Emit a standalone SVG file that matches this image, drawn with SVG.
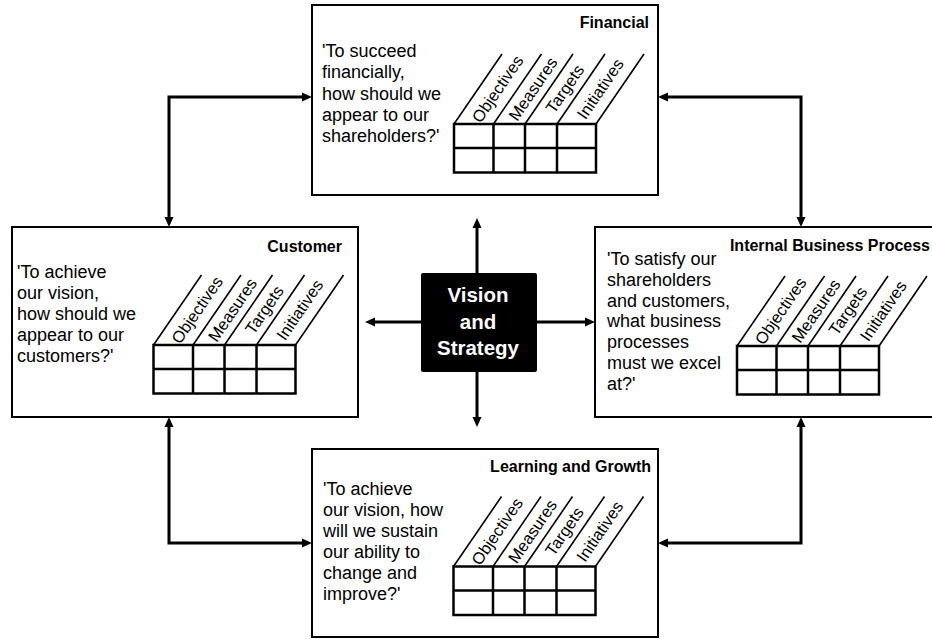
<svg xmlns="http://www.w3.org/2000/svg" width="932" height="639" viewBox="0 0 932 639">
<style>
.box{fill:#fff;stroke:#000;stroke-width:2}
.q{font-family:"Liberation Sans",Arial,sans-serif;font-size:18px;fill:#000}
.t{font-family:"Liberation Sans",Arial,sans-serif;font-size:16px;font-weight:bold;fill:#000;text-anchor:end}
.grid{fill:none;stroke:#000;stroke-width:2.5}
.diag{stroke:#000;stroke-width:1.6}
.lbl{font-family:"Liberation Sans",Arial,sans-serif;font-size:16.5px;fill:#000;text-anchor:middle}
.conn{fill:none;stroke:#000;stroke-width:3}
.vs{font-family:"Liberation Sans",Arial,sans-serif;font-size:20.5px;font-weight:bold;fill:#fff;text-anchor:middle}
</style>
<defs>
<marker id="ah" viewBox="0 0 10 10" refX="1" refY="5" markerWidth="10" markerHeight="10" markerUnits="userSpaceOnUse" orient="auto-start-reverse">
<path d="M0,0.5 L10,5 L0,9.5 z" fill="#000"/>
</marker>
<g id="grid">
<line class="diag" x1="0" y1="0" x2="48" y2="-70"/>
<line class="diag" x1="39.5" y1="0" x2="87.5" y2="-70"/>
<line class="diag" x1="71" y1="0" x2="119" y2="-70"/>
<line class="diag" x1="103" y1="0" x2="151" y2="-70"/>
<line class="diag" x1="142" y1="0" x2="190" y2="-70"/>
<rect class="grid" x="0" y="0" width="142" height="48.5"/>
<line class="grid" x1="0" y1="24" x2="142" y2="24"/>
<line class="grid" x1="39.5" y1="0" x2="39.5" y2="48.5"/>
<line class="grid" x1="71" y1="0" x2="71" y2="48.5"/>
<line class="grid" x1="103" y1="0" x2="103" y2="48.5"/>
</g>
</defs>

<g id="connectors">
<path class="conn" d="M169,218 V97 H303" marker-start="url(#ah)" marker-end="url(#ah)"/>
<path class="conn" d="M801,218 V97 H667" marker-start="url(#ah)" marker-end="url(#ah)"/>
<path class="conn" d="M169,426 V543 H303" marker-start="url(#ah)" marker-end="url(#ah)"/>
<path class="conn" d="M801,426 V543 H667" marker-start="url(#ah)" marker-end="url(#ah)"/>
<path class="conn" d="M477,273 V227" marker-end="url(#ah)"/>
<path class="conn" d="M477,372 V418" marker-end="url(#ah)"/>
<path class="conn" d="M421,322 H374" marker-end="url(#ah)"/>
<path class="conn" d="M537,322 H586" marker-end="url(#ah)"/>
</g>

<g id="financial">
<rect class="box" x="312" y="5" width="346" height="190"/>
<text class="t" x="649" y="28">Financial</text>
<text class="q" x="322" y="57">'To succeed</text>
<text class="q" x="322" y="78.3">financially,</text>
<text class="q" x="322" y="99.6">how should we</text>
<text class="q" x="322" y="120.9">appear to our</text>
<text class="q" x="322" y="142.2">shareholders?'</text>
<g transform="translate(454,124)">
<use href="#grid"/>
<text class="lbl" transform="translate(43.75,-35) rotate(-55.6)" y="5.5">Objectives</text>
<text class="lbl" transform="translate(79.25,-35) rotate(-55.6)" y="5.5">Measures</text>
<text class="lbl" transform="translate(111,-35) rotate(-55.6)" y="5.5">Targets</text>
<text class="lbl" transform="translate(146.5,-35) rotate(-55.6)" y="5.5">Initiatives</text>
</g>
</g>

<g id="customer">
<rect class="box" x="12" y="227" width="346" height="190"/>
<text class="t" x="342" y="252">Customer</text>
<text class="q" x="17" y="278">'To achieve</text>
<text class="q" x="17" y="299">our vision,</text>
<text class="q" x="17" y="320">how should we</text>
<text class="q" x="17" y="341">appear to our</text>
<text class="q" x="17" y="362">customers?'</text>
<g transform="translate(153.5,345)">
<use href="#grid"/>
<text class="lbl" transform="translate(43.75,-35) rotate(-55.6)" y="5.5">Objectives</text>
<text class="lbl" transform="translate(79.25,-35) rotate(-55.6)" y="5.5">Measures</text>
<text class="lbl" transform="translate(111,-35) rotate(-55.6)" y="5.5">Targets</text>
<text class="lbl" transform="translate(146.5,-35) rotate(-55.6)" y="5.5">Initiatives</text>
</g>
</g>

<g id="internal">
<rect class="box" x="595" y="227" width="350" height="190"/>
<text class="t" x="930" y="251">Internal Business Process</text>
<text class="q" x="607" y="265">'To satisfy our</text>
<text class="q" x="607" y="285.8">shareholders</text>
<text class="q" x="607" y="306.6">and customers,</text>
<text class="q" x="607" y="327.4">what business</text>
<text class="q" x="607" y="348.2">processes</text>
<text class="q" x="607" y="369">must we excel</text>
<text class="q" x="607" y="389.8">at?'</text>
<g transform="translate(737,346)">
<use href="#grid"/>
<text class="lbl" transform="translate(43.75,-35) rotate(-55.6)" y="5.5">Objectives</text>
<text class="lbl" transform="translate(79.25,-35) rotate(-55.6)" y="5.5">Measures</text>
<text class="lbl" transform="translate(111,-35) rotate(-55.6)" y="5.5">Targets</text>
<text class="lbl" transform="translate(146.5,-35) rotate(-55.6)" y="5.5">Initiatives</text>
</g>
</g>

<g id="learning">
<rect class="box" x="312" y="449" width="346" height="188"/>
<text class="t" x="651" y="472">Learning and Growth</text>
<text class="q" x="323" y="495">'To achieve</text>
<text class="q" x="323" y="515.9">our vision, how</text>
<text class="q" x="323" y="536.8">will we sustain</text>
<text class="q" x="323" y="557.7">our ability to</text>
<text class="q" x="323" y="578.6">change and</text>
<text class="q" x="323" y="599.5">improve?'</text>
<g transform="translate(453.5,566.5)">
<use href="#grid"/>
<text class="lbl" transform="translate(43.75,-35) rotate(-55.6)" y="5.5">Objectives</text>
<text class="lbl" transform="translate(79.25,-35) rotate(-55.6)" y="5.5">Measures</text>
<text class="lbl" transform="translate(111,-35) rotate(-55.6)" y="5.5">Targets</text>
<text class="lbl" transform="translate(146.5,-35) rotate(-55.6)" y="5.5">Initiatives</text>
</g>
</g>

<g id="vision">
<rect x="421" y="273" width="116" height="99" rx="2" fill="#000"/>
<text class="vs" x="478" y="302">Vision</text>
<text class="vs" x="478" y="328.5">and</text>
<text class="vs" x="478" y="355">Strategy</text>
</g>
</svg>
